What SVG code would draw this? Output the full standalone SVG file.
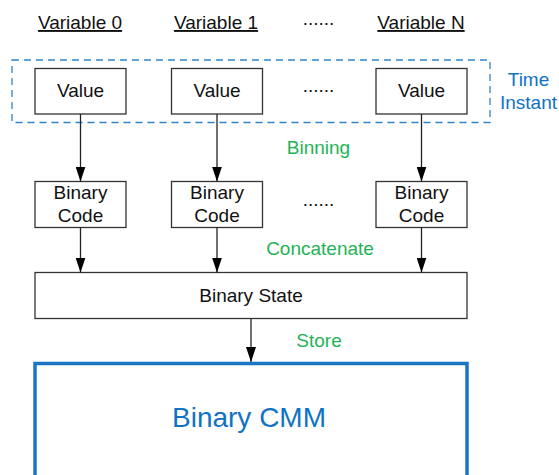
<svg xmlns="http://www.w3.org/2000/svg" width="559" height="475" viewBox="0 0 559 475">
<style>
text{font-family:"Liberation Sans",Arial,sans-serif;font-size:19px;fill:#111;text-anchor:middle}
.hdr{text-decoration:underline}
.grn{fill:#1fb357}
.blu{fill:#0f73c4}
.box{fill:#fff;stroke:#333;stroke-width:1.3}
.conn{stroke:#222;stroke-width:1.3;fill:none}
</style>
<defs>
<marker id="ah" markerUnits="userSpaceOnUse" markerWidth="15" markerHeight="10" refX="15" refY="5" orient="auto" viewBox="0 0 15 10">
<polygon points="0,0 15,5 0,10" fill="#000"/>
</marker>
</defs>
<rect width="559" height="475" fill="#fff"/>
<g id="headers">
<text class="hdr" x="80" y="29">Variable 0</text>
<text class="hdr" x="216" y="29">Variable 1</text>
<text x="318.5" y="25">......</text>
<text class="hdr" x="421" y="29">Variable N</text>
</g>
<g id="time-instant">
<rect x="12" y="60" width="478" height="62.5" fill="none" stroke="#2e86c8" stroke-width="1.3" stroke-dasharray="7,5"/>
<text class="blu" x="528.5" y="86">Time</text>
<text class="blu" x="528.5" y="109">Instant</text>
</g>
<g id="value0"><rect class="box" x="35" y="68.5" width="91" height="45.5"/><text x="80.5" y="97">Value</text></g>
<g id="value1"><rect class="box" x="171.5" y="68.5" width="91" height="45.5"/><text x="217" y="97">Value</text></g>
<text x="318.5" y="91.5">......</text>
<g id="valueN"><rect class="box" x="376" y="68.5" width="91" height="45.5"/><text x="421.5" y="97">Value</text></g>
<g id="code0"><rect class="box" x="35" y="181.5" width="91" height="46"/><text x="80.5" y="199.3">Binary</text><text x="80.5" y="221.7">Code</text></g>
<g id="code1"><rect class="box" x="171.5" y="181.5" width="91" height="46"/><text x="217" y="199.3">Binary</text><text x="217" y="221.7">Code</text></g>
<text x="318.5" y="206">......</text>
<g id="codeN"><rect class="box" x="376" y="181.5" width="91" height="46"/><text x="421.5" y="199.3">Binary</text><text x="421.5" y="221.7">Code</text></g>
<g id="state"><rect class="box" x="35" y="272.5" width="432" height="46"/><text x="251" y="302">Binary State</text></g>
<g id="cmm"><rect x="35" y="363.5" width="432" height="130" fill="#fff" stroke="#1a75c4" stroke-width="3.5"/><text class="blu" x="249" y="427" style="font-size:28px">Binary CMM</text></g>
<g id="labels">
<text class="grn" x="318.5" y="154">Binning</text>
<text class="grn" x="320" y="255">Concatenate</text>
<text class="grn" x="319" y="347">Store</text>
</g>
<g id="connectors">
<line class="conn" x1="80.5" y1="114" x2="80.5" y2="181.5" marker-end="url(#ah)"/>
<line class="conn" x1="217" y1="114" x2="217" y2="181.5" marker-end="url(#ah)"/>
<line class="conn" x1="421.5" y1="114" x2="421.5" y2="181.5" marker-end="url(#ah)"/>
<line class="conn" x1="80.5" y1="227.5" x2="80.5" y2="272.5" marker-end="url(#ah)"/>
<line class="conn" x1="217" y1="227.5" x2="217" y2="272.5" marker-end="url(#ah)"/>
<line class="conn" x1="421.5" y1="227.5" x2="421.5" y2="272.5" marker-end="url(#ah)"/>
<line class="conn" x1="251" y1="318.5" x2="251" y2="362" marker-end="url(#ah)"/>
</g>
</svg>
